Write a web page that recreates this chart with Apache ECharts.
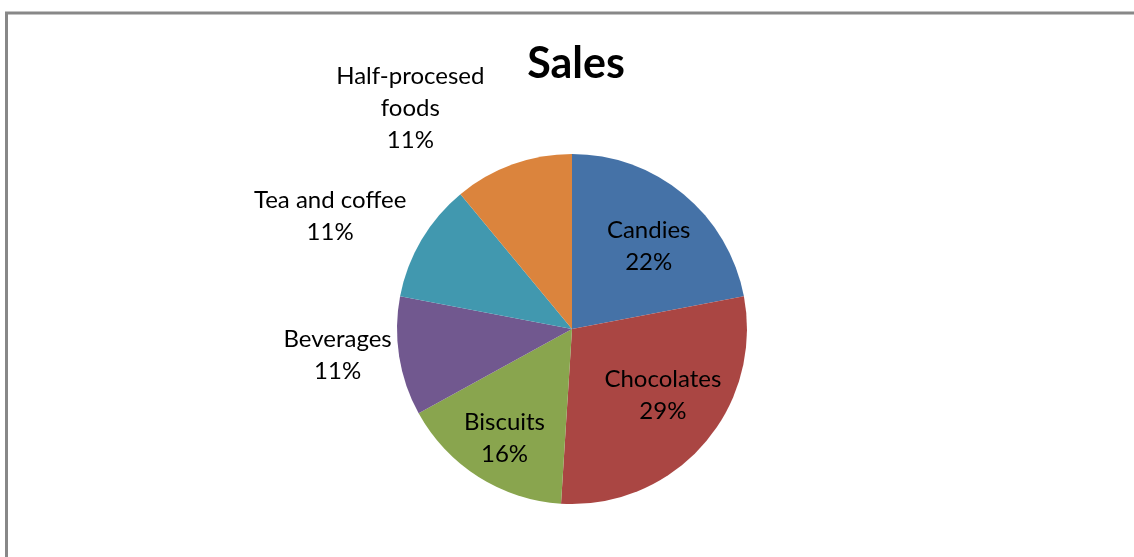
<!DOCTYPE html>
<html>
<head>
<meta charset="utf-8">
<script src="https://cdn.jsdelivr.net/npm/echarts@6/dist/echarts.min.js"></script>
<style>
html,body{margin:0;padding:0;background:#fff;}
#chart{width:1134px;height:557px;}
</style>
</head>
<body>
<div id="chart"></div>
<script>
const categories = ['Candies', 'Chocolates', 'Biscuits', 'Beverages', 'Tea and coffee', 'Half-procesed\nfoods'];
const values = [22, 29, 16, 11, 11, 11];
const colors = ['#4572A7', '#AA4643', '#89A54E', '#71588F', '#4198AF', '#DB843D'];
const labelOffsets = [[19, -13], [23, 6], [-19, 33], [-145, 12], [-164, -67], [-131, -136]];

const chart = echarts.init(document.getElementById('chart'), null, {renderer: 'canvas'});
const total = values.reduce((a, b) => a + b, 0);
chart.setOption({
  backgroundColor: '#fff',
  animation: false,
  title: {
    text: 'Sales',
    left: 571,
    textAlign: 'center',
    top: 38,
    textStyle: {fontFamily: 'Lato', fontWeight: 'bold', fontSize: 43, color: '#000'}
  },
  graphic: [{
    type: 'rect',
    shape: {x: 6.5, y: 13, width: 1140, height: 560},
    style: {fill: 'none', stroke: '#888', lineWidth: 3}
  }],
  series: [{
    type: 'pie',
    center: [572, 329],
    radius: [0, 175],
    startAngle: 90,
    clockwise: true,
    silent: true,
    label: {
      show: true,
      position: 'inside',
      fontFamily: 'Lato',
      fontSize: 24,
      lineHeight: 32,
      color: '#000',
      align: 'center',
      formatter: p => p.name + '\n' + Math.round(p.value / total * 100) + '%'
    },
    labelLine: {show: false},
    itemStyle: {borderWidth: 0},
    data: categories.map((c, i) => ({
      name: c,
      value: values[i],
      itemStyle: {color: colors[i]},
      label: {offset: labelOffsets[i]}
    }))
  }]
});
</script>
</body>
</html>
